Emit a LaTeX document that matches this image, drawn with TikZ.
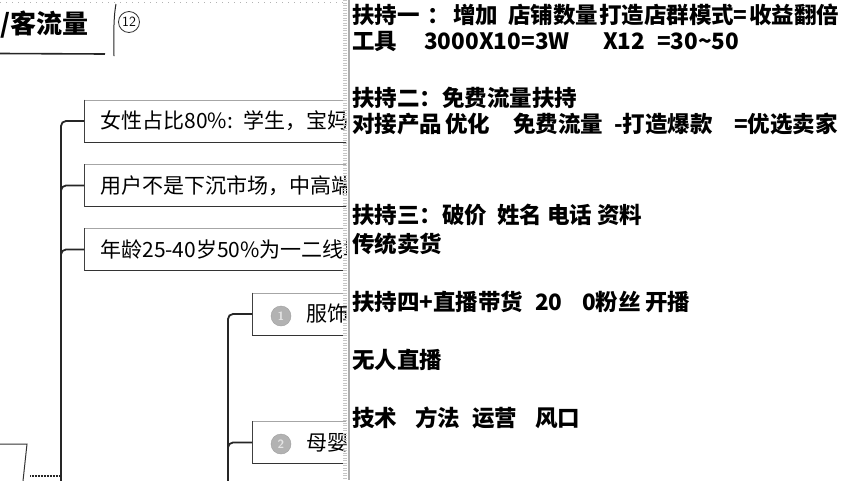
\documentclass[tikz,border=0pt]{standalone}
\usepackage{fontspec}
\newfontfamily\cjk{Noto Sans CJK SC}
\newcommand\seg[2]{\makebox[0pt][l]{\hspace*{#1pt}#2}}
\tikzset{
  conn/.style={draw=black!85, line width=1.8pt, rounded corners=5pt},
  mbox/.style={draw=gray!70, line width=0.7pt, rectangle, anchor=west, minimum height=42pt,
     minimum width=330pt, text width=310pt, align=left, inner xsep=16pt,
     font=\cjk\fontsize{21}{21}\selectfont},
  rtext/.style={anchor=west, inner sep=0pt, font=\cjk\bfseries\fontsize{22.5}{22.5}\selectfont},
  numdot/.style={circle, fill=gray!60, draw=gray!75, minimum size=20pt, inner sep=0pt,
     font=\sffamily\bfseries\fontsize{12}{12}\selectfont, text=gray!20}
}
\begin{document}
\begin{tikzpicture}[x=1pt,y=-1pt]
\useasboundingbox (0,0) rectangle (852,480);
\fill[white] (0,0) rectangle (852,480);
\begin{scope}
\clip (0,0) rectangle (346,480);
% title
\node[anchor=west, inner sep=0pt, font=\cjk\bfseries\fontsize{26}{26}\selectfont] (title) at (0,25) {/客流量};
\draw[black!85, line width=1.6pt] (0,53.5) -- (105,54);
\draw[black!85, line width=1pt] (116,4) .. controls (113,20) and (114,40) .. (114,56);
\node[circle, draw=black!80, line width=0.8pt, minimum size=21pt, inner sep=0pt,
      font=\sffamily\fontsize{14}{14}\selectfont] (num12) at (129,22) {12};
% top dotted line
\draw[gray!60, line width=1pt, dash pattern=on 1pt off 5pt] (0,2) -- (343,2);
% boxes
\node[mbox] (b1) at (84,121) {女性占比80\%: 学生，宝妈，};
\node[mbox] (b2) at (84,185.5) {用户不是下沉市场，中高端消};
\node[mbox] (b3) at (84,249.5) {年龄25-40岁50\%为一二线城};
\node[mbox, text width=330pt, inner xsep=0pt] (b4) at (252,314) {\hspace*{54pt}服饰};
\node[mbox, text width=330pt, inner xsep=0pt] (b5) at (252,442.5) {\hspace*{54pt}母婴};
\node[numdot] (n1) at (281,316) {1};
\node[numdot] (n2) at (281,444) {2};
\foreach \b in {b1,b2,b3,b4,b5}{
  \draw[gray!40!black, line width=1.2pt] (\b.south west) -- (\b.south east);
  \draw[gray!50!black, line width=0.9pt] (\b.north west) -- (\b.south west);
}
% connectors
\coordinate (tA) at (61,482);
\coordinate (tB) at (228,482);
\draw[conn] (tA) |- (b1.west);
\draw[conn] (tA) |- (b2.west);
\draw[conn] (tA) |- (b3.west);
\draw[conn] (tB) |- (b4.west);
\draw[conn] (tB) |- (b5.west);
% root box fragment
\draw[black!80, line width=1pt] (0,444) -- (27,444) -- (23,481);
\coordinate (root) at (30,476);
\draw[black!85, line width=2pt, dash pattern=on 1pt off 0.5pt] (root) -- (tA |- root);
\end{scope}
% right border
\draw[gray!45, line width=3.5pt, dash pattern=on 1pt off 1.5pt] (345,0) -- (345,480);
\fill[gray!65] (347.5,0) rectangle (349.5,480);
% right text
\node[rtext] (r1) at (352,15) {\seg{0}{扶持一}\seg{75}{：}\seg{101}{增加}\seg{156}{店铺数量}\seg{247}{打造店群模式}\seg{381}{=}\seg{397}{收益翻倍}\hspace*{493pt}};
\node[rtext] (r2) at (352,41) {\seg{0}{工具}\seg{72}{3000}\seg{127}{X10=3W}\seg{251}{X12}\seg{305}{=30\textasciitilde50}\hspace*{385pt}};
\node[rtext] (r3) at (352,98) {扶持二：免费流量扶持};
\node[rtext] (r4) at (352,124) {\seg{0}{对接产品}\seg{93}{优化}\seg{161}{免费流量}\seg{262}{-打造爆款}\seg{382}{=优选卖家}\hspace*{483pt}};
\node[rtext] (r5) at (352,215) {\seg{0}{扶持三：破价}\seg{145}{姓名}\seg{195}{电话}\seg{245}{资料}\hspace*{288pt}};
\node[rtext] (r6) at (352,244) {传统卖货};
\node[rtext] (r7) at (352,302) {\seg{0}{扶持四+直播带货}\seg{183}{20}\seg{230}{0粉丝}\seg{293}{开播}\hspace*{336pt}};
\node[rtext] (r8) at (352,360) {无人直播};
\node[rtext] (r9) at (352,418) {\seg{0}{技术}\seg{63}{方法}\seg{120}{运营}\seg{183}{风口}\hspace*{225pt}};
\end{tikzpicture}
\end{document}
